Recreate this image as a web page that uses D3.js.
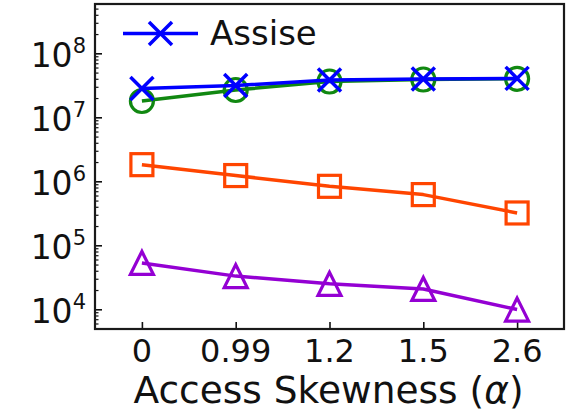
<!DOCTYPE html>
<html>
<head>
<meta charset="utf-8">
<script src="https://cdn.jsdelivr.net/npm/d3@7/dist/d3.min.js"></script>
<style>
  html, body { margin: 0; padding: 0; background: #fff; }
  svg { display: block; }
  text { font-family: "DejaVu Sans", sans-serif; fill: #111; }
</style>
</head>
<body>
<svg id="chart" width="575" height="413"></svg>
<script>
// Categories on the x axis (access skewness alpha)
const categories = ["0", "0.99", "1.2", "1.5", "2.6"];

// Series values (log-scale y)
const assise  = [2.82e7, 3.14e7, 3.83e7, 3.96e7, 4.06e7];
const greenS  = [1.80e7, 2.67e7, 3.63e7, 3.90e7, 4.00e7];
const orangeS = [1.82e6, 1.23e6, 8.35e5, 6.2e5, 3.2e5];
const purpleS = [5.3e4, 3.3e4, 2.5e4, 2.08e4, 9.9e3];

// Y tick exponents
const yExponents = [4, 5, 6, 7, 8];
const legendLabels = ["Assise"];
const xTitle = "Access Skewness (";
const xTitleSym = "\u03B1";

const margin = { left: 95, top: 4, right: 564, bottom: 329 };

const svg = d3.select("#chart");

const x = d3.scalePoint()
  .domain(categories)
  .range([margin.left, margin.right])
  .padding(0.5);

const y = d3.scaleLog()
  .domain([4.92e3, 5.9e8])
  .range([margin.bottom, margin.top]);

// Minor log ticks 2..9 per decade inside the domain
const minorTicks = [];
for (let e = 3; e <= 8; e++) {
  for (let k = 2; k <= 9; k++) {
    const v = k * Math.pow(10, e);
    if (v >= y.domain()[0] && v <= y.domain()[1]) minorTicks.push(v);
  }
}

// Y axis: major and minor ticks pointing inward
const yMajor = d3.axisLeft(y)
  .tickValues(yExponents.map(e => Math.pow(10, e)))
  .tickSize(-7).tickFormat("");
const yMinor = d3.axisLeft(y)
  .tickValues(minorTicks)
  .tickSize(-3.5).tickFormat("");

const gYMaj = svg.append("g").attr("transform", `translate(${margin.left},0)`).call(yMajor);
const gYMin = svg.append("g").attr("transform", `translate(${margin.left},0)`).call(yMinor);
[gYMaj, gYMin].forEach(g => {
  g.select(".domain").remove();
  g.selectAll(".tick line").attr("stroke", "#111");
});
gYMaj.selectAll(".tick line").attr("stroke-width", 1.6);
gYMin.selectAll(".tick line").attr("stroke-width", 1.2);

// Y labels as 10^n
yExponents.forEach(e => {
  const ty = y(Math.pow(10, e));
  const t = svg.append("text")
    .attr("x", 86)
    .attr("y", ty + 13.5)
    .attr("text-anchor", "end")
    .style("font-size", "33px");
  t.append("tspan").text("10");
  t.append("tspan")
    .attr("dy", -13.5)
    .style("font-size", "21px")
    .text(String(e));
});

// X axis ticks inward
const xAxis = d3.axisBottom(x).tickSize(-7).tickFormat("");
const gX = svg.append("g").attr("transform", `translate(0,${margin.bottom})`).call(xAxis);
gX.select(".domain").remove();
gX.selectAll(".tick line").attr("stroke", "#111").attr("stroke-width", 1.6);

svg.append("g").selectAll("text")
  .data(categories)
  .join("text")
  .attr("x", d => x(d))
  .attr("y", 361.5)
  .attr("text-anchor", "middle")
  .style("font-size", "32px")
  .text(d => d);

// X title
const xt = svg.append("text")
  .attr("x", (margin.left + margin.right) / 2 - 1)
  .attr("y", 402.5)
  .attr("text-anchor", "middle")
  .style("font-size", "37.5px");
xt.append("tspan").text(xTitle);
xt.append("tspan").style("font-style", "italic").text(xTitleSym);
xt.append("tspan").text(")");

// Frame
svg.append("rect")
  .attr("x", margin.left)
  .attr("y", margin.top)
  .attr("width", margin.right - margin.left)
  .attr("height", margin.bottom - margin.top)
  .attr("fill", "none")
  .attr("stroke", "#1a1a1a")
  .attr("stroke-width", 2.2);

const line = d3.line()
  .x((d, i) => x(categories[i]))
  .y(d => y(d));

function drawSeries(values, color, marker) {
  const g = svg.append("g");
  g.append("path")
    .attr("d", line(values))
    .attr("fill", "none")
    .attr("stroke", color)
    .attr("stroke-width", 3.5)
    .attr("stroke-linejoin", "round");
  values.forEach((v, i) => {
    drawMarker(g, x(categories[i]), y(v), color, marker);
  });
}

function drawMarker(g, cx, cy, color, marker) {
  const m = g.append("g").attr("transform", `translate(${cx},${cy})`);
  if (marker === "x") {
    const s = 11.5;
    m.append("path")
      .attr("d", `M${-s},${-s}L${s},${s}M${-s},${s}L${s},${-s}`)
      .attr("stroke", color).attr("stroke-width", 3.5).attr("fill", "none");
  } else if (marker === "o") {
    m.append("circle").attr("r", 11.5)
      .attr("stroke", color).attr("stroke-width", 3.2).attr("fill", "none");
  } else if (marker === "s") {
    const s = 11;
    m.append("rect").attr("x", -s).attr("y", -s).attr("width", 2 * s).attr("height", 2 * s)
      .attr("stroke", color).attr("stroke-width", 3.2).attr("fill", "none");
  } else if (marker === "^") {
    const s = 11.5;
    m.append("path")
      .attr("d", `M0,${-s}L${-s},${s}L${s},${s}Z`)
      .attr("stroke", color).attr("stroke-width", 3.2).attr("fill", "none");
  }
}

drawSeries(purpleS, "#9400d3", "^");
drawSeries(orangeS, "#ff4500", "s");
drawSeries(greenS, "#118811", "o");
drawSeries(assise, "#0000ff", "x");

// Legend
const lg = svg.append("g");
lg.append("line")
  .attr("x1", 123).attr("x2", 198)
  .attr("y1", 33.5).attr("y2", 33.5)
  .attr("stroke", "#0000ff").attr("stroke-width", 3.5);
drawMarker(lg, 160.5, 33.5, "#0000ff", "x");
lg.append("text")
  .attr("x", 210).attr("y", 45)
  .style("font-size", "34px")
  .text(legendLabels[0]);
</script>
</body>
</html>
